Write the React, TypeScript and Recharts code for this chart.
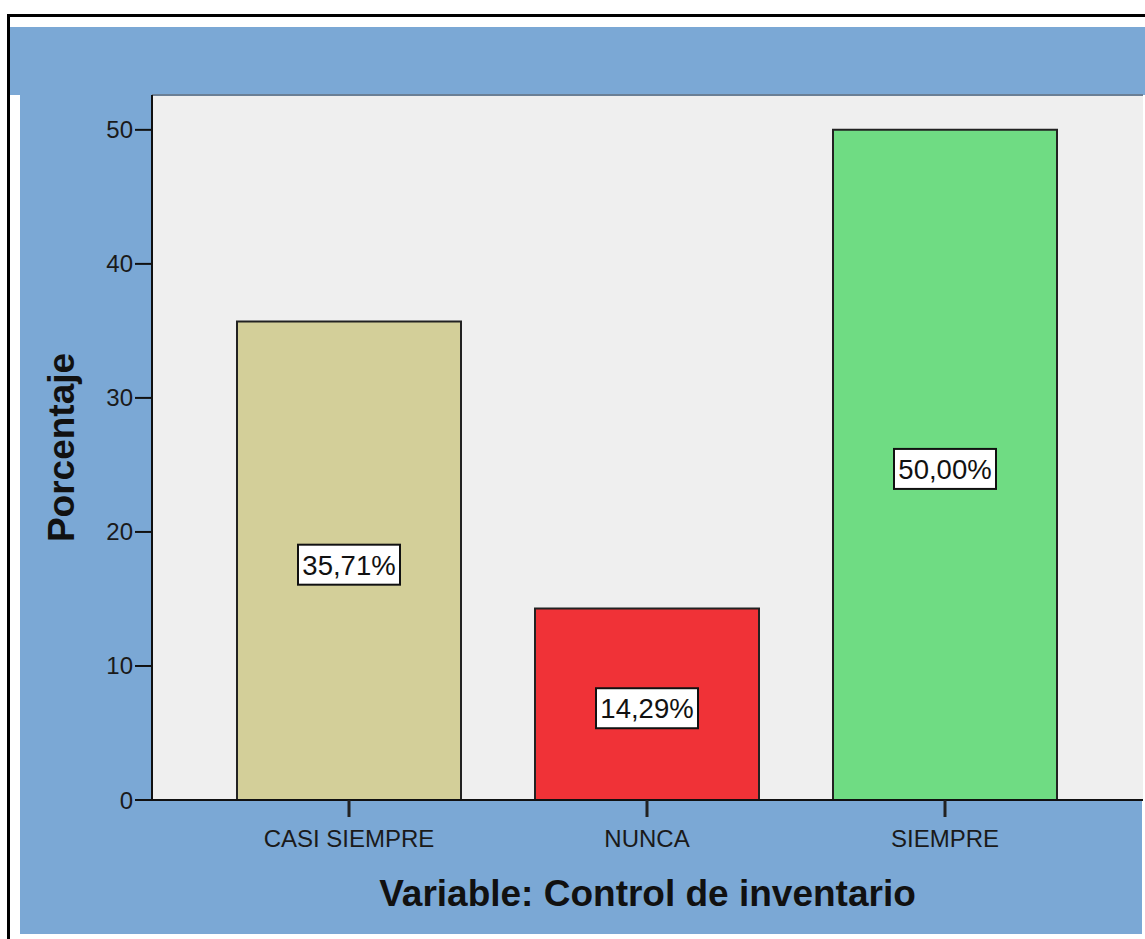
import React from 'react';
import {
  BarChart,
  Bar,
  Cell,
  XAxis,
  YAxis,
  CartesianGrid,
  LabelList,
  ReferenceLine,
} from 'recharts';

const categories = ['CASI SIEMPRE', 'NUNCA', 'SIEMPRE'];
const percentages = [35.71, 14.29, 50.0];
const barColors = ['#D3CF99', '#F03237', '#6FDC83'];
const yTicks = [0, 10, 20, 30, 40, 50];
const Y_MAX = 52.6;

const FONT = '"Liberation Sans", Arial, sans-serif';
const BLUE = '#7BA8D5';

const data = categories.map((c, i) => ({ category: c, value: percentages[i] }));

// white boxed percentage in the middle of each bar
const BoxLabel = (props: any) => {
  const { x, y, width, height, value } = props;
  const cx = x + width / 2;
  const cy = y + height / 2 + 4;
  const text = Number(value).toFixed(2).replace('.', ',') + '%';
  return (
    <g>
      <rect x={cx - 51} y={cy - 20} width={102} height={40} fill="#FFFFFF" stroke="#111" strokeWidth={2} />
      <text x={cx} y={cy + 10} textAnchor="middle" fontSize={27.5} fontFamily={FONT} fill="#111">
        {text}
      </text>
    </g>
  );
};

export default function App() {
  return (
    <div
      style={{
        position: 'absolute',
        left: 0,
        top: 0,
        width: 1145,
        height: 939,
        background: '#FFFFFF',
        overflow: 'hidden',
      }}
    >
      {/* outer frame */}
      <div
        style={{
          position: 'absolute',
          left: 7,
          top: 14,
          width: 1160,
          height: 940,
          borderLeft: '3px solid #000',
          borderTop: '3px solid #000',
        }}
      />
      {/* blue header band */}
      <div style={{ position: 'absolute', left: 10, top: 27, width: 1135, height: 68, background: BLUE }} />
      {/* blue chart body */}
      <div style={{ position: 'absolute', left: 20, top: 95, width: 1122, height: 839, background: BLUE }} />

      <div style={{ position: 'absolute', left: 0, top: 0 }}>
        <BarChart
          width={1145}
          height={939}
          data={data}
          margin={{ top: 95, right: 2, bottom: 0, left: 0 }}
          barSize={224}
        >
          <CartesianGrid horizontal={false} vertical={false} fill="#EFEFEF" />
          <XAxis
            dataKey="category"
            height={139}
            padding={{ left: 48, right: 49 }}
            axisLine={{ stroke: '#111', strokeWidth: 2 }}
            tickLine={{ stroke: '#222', strokeWidth: 3 }}
            tickSize={17}
            tickMargin={13}
            tick={{ fill: '#1a1a1a', fontSize: 24, fontFamily: FONT }}
            label={{
              content: ({ viewBox }: any) => (
                <text
                  x={viewBox.x + viewBox.width / 2}
                  y={906}
                  textAnchor="middle"
                  fontSize={37}
                  fontWeight="bold"
                  fontFamily={FONT}
                  fill="#111"
                >
                  Variable: Control de inventario
                </text>
              ),
            }}
          />
          <YAxis
            width={152}
            domain={[0, Y_MAX]}
            ticks={yTicks}
            axisLine={{ stroke: '#111', strokeWidth: 2 }}
            tickLine={{ stroke: '#111', strokeWidth: 2 }}
            tickSize={17}
            tickMargin={2}
            tick={{ fill: '#1a1a1a', fontSize: 24, fontFamily: FONT }}
            label={{
              content: ({ viewBox }: any) => {
                const cy = viewBox.y + viewBox.height / 2;
                return (
                  <text
                    x={74}
                    y={cy}
                    transform={`rotate(-90, 74, ${cy})`}
                    textAnchor="middle"
                    fontSize={37}
                    fontWeight="bold"
                    fontFamily={FONT}
                    fill="#111"
                  >
                    Porcentaje
                  </text>
                );
              },
            }}
          />
          <YAxis
            yAxisId="right"
            orientation="right"
            width={0}
            domain={[0, Y_MAX]}
            tick={false}
            tickLine={false}
            axisLine={{ stroke: '#333', strokeWidth: 2 }}
          />
          <ReferenceLine y={Y_MAX} stroke="#6B7F95" strokeWidth={2} />
          <Bar dataKey="value" stroke="#222" strokeWidth={2} isAnimationActive={false}>
            {data.map((d, i) => (
              <Cell key={d.category} fill={barColors[i]} />
            ))}
            <LabelList dataKey="value" content={BoxLabel} />
          </Bar>
        </BarChart>
      </div>
    </div>
  );
}
